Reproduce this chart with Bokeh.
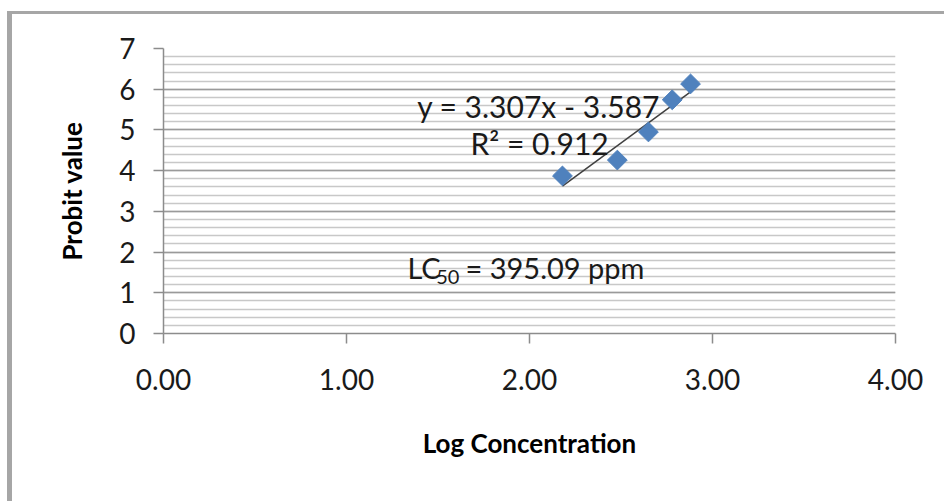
import numpy as np
from bokeh.plotting import figure
from bokeh.models import (Range1d, SingleIntervalTicker, NumeralTickFormatter,
                          ColumnDataSource)
from bokeh.core.properties import value
from bokeh.embed import file_html
from bokeh.resources import INLINE

# ---- data ----
log_conc = [2.18, 2.48, 2.65, 2.78, 2.88]
probit = [3.87, 4.26, 4.95, 5.74, 6.13]
slope = 3.307
intercept = -3.587
r_squared = 0.912
lc50 = 395.09
x_label = "Log Concentration"
y_label = "Probit value"

FONT = "Lato"
TXT = "#1a1a1a"

p = figure(width=937, height=490, output_backend="svg", toolbar_location=None,
           x_range=Range1d(0, 4), y_range=Range1d(0, 7),
           min_border_left=151, min_border_right=54,
           min_border_top=34, min_border_bottom=171)
p.margin = (11, 0, 0, 7)
p.styles = {"border-left": "5px solid #a6a6a6", "border-top": "3px solid #a6a6a6"}
p.outline_line_color = None
p.background_fill_color = "white"
p.border_fill_color = "white"

# axes
xa = p.xaxis[0]
ya = p.yaxis[0]
xa.ticker = SingleIntervalTicker(interval=1, num_minor_ticks=0)
ya.ticker = SingleIntervalTicker(interval=1, num_minor_ticks=5)
xa.formatter = NumeralTickFormatter(format="0.00")
for ax in (xa, ya):
    ax.axis_line_color = "#8c8c8c"
    ax.axis_line_width = 1.5
    ax.major_tick_line_color = "#8c8c8c"
    ax.major_tick_line_width = 1.5
    ax.major_tick_out = 10
    ax.major_tick_in = 0
    ax.minor_tick_out = 0
    ax.minor_tick_in = 0
    ax.major_label_text_font = FONT
    ax.major_label_text_font_size = "28px"
    ax.major_label_text_color = TXT
    ax.axis_label_text_font = FONT
    ax.axis_label_text_font_size = "26px"
    ax.axis_label_text_font_style = "bold"
    ax.axis_label_text_color = "#000000"
xa.axis_label = x_label
ya.axis_label = y_label
xa.major_label_standoff = 25
xa.axis_label_standoff = 34
ya.major_label_standoff = 18
ya.axis_label_standoff = 28

# grids
p.xgrid.grid_line_color = None
p.ygrid.grid_line_color = "#9a9a9a"
p.ygrid.grid_line_width = 1.5
p.ygrid.minor_grid_line_color = "#c8c8c8"
p.ygrid.minor_grid_line_width = 1.5

# trendline
xs = np.array([min(log_conc), max(log_conc)])
p.line(xs, slope * xs + intercept, line_color="#404040", line_width=1.5)

# data points (diamonds)
src = ColumnDataSource(dict(x=log_conc, y=probit))
p.scatter("x", "y", source=src, marker="square", angle=np.pi / 4, size=14,
          fill_color="#4f81bd", line_color="#4f81bd")

# annotations
eq = f"y = {slope}x - {abs(intercept)}"
r2 = f"R\u00b2 = {r_squared}"
p.text(x=[2.05], y=[5.60], text=[eq], text_font=value(FONT), text_font_size="30px",
       text_align="center", text_baseline="alphabetic", text_color=TXT)
p.text(x=[2.055], y=[4.67], text=[r2], text_font=value(FONT), text_font_size="30px",
       text_align="center", text_baseline="alphabetic", text_color=TXT)
p.text(x=[1.333], y=[1.63], text=["LC"], text_font=value(FONT), text_font_size="29px",
       text_align="left", text_baseline="alphabetic", text_color=TXT)
p.text(x=[1.49], y=[1.38], text=["50"], text_font=value(FONT), text_font_size="20px",
       text_align="left", text_baseline="alphabetic", text_color=TXT)
p.text(x=[1.65], y=[1.63], text=[f"= {lc50} ppm"], text_font=value(FONT),
       text_font_size="29px", text_align="left", text_baseline="alphabetic",
       text_color=TXT)

open("out.html", "w").write(file_html(p, INLINE))
